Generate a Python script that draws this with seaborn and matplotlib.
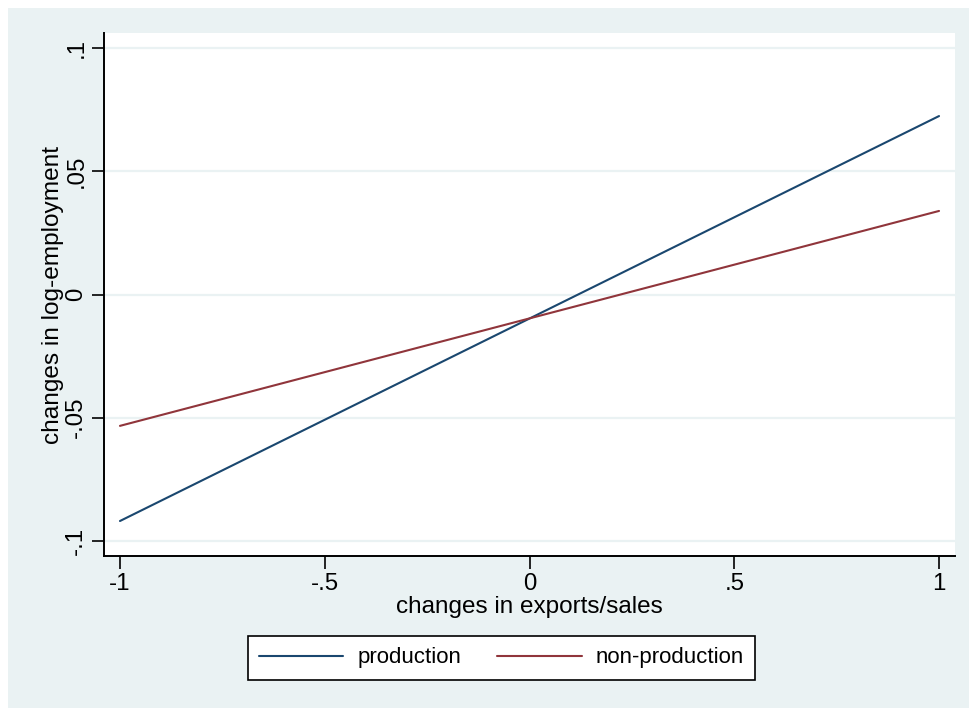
import pandas as pd
import numpy as np
import matplotlib
matplotlib.use("Agg")
import matplotlib.pyplot as plt
from matplotlib.patches import Rectangle
import seaborn as sns

sns.set_style("white")
plt.rcParams['font.family'] = ['Liberation Sans', 'DejaVu Sans']
plt.rcParams['text.color'] = 'black'
plt.rcParams['axes.labelcolor'] = 'black'
plt.rcParams['xtick.color'] = 'black'
plt.rcParams['ytick.color'] = 'black'

# ── 데이터 ───────────────────────────────────────────
export_change = [-1.0, 1.0]
production = [-0.0919, 0.0724]
non_production = [-0.0533, 0.0339]
SERIES = ["production", "non-production"]
COLORS = {"production": "#1A476F", "non-production": "#90353B"}
Y_TICKS = [-0.1, -0.05, 0, 0.05, 0.1]
Y_LABELS = ["-.1", "-.05", "0", ".05", ".1"]
X_TICKS = [-1, -0.5, 0, 0.5, 1]
X_LABELS = ["-1", "-.5", "0", ".5", "1"]

df = pd.DataFrame({
    "x": export_change * 2,
    "y": production + non_production,
    "group": ["production"] * 2 + ["non-production"] * 2,
})

W, H = 969, 708
fig = plt.figure(figsize=(W / 100, H / 100), dpi=100, facecolor="white")
# Stata 배경 (왼쪽/위 흰 여백)
fig.patches.append(Rectangle((8 / W, 0), 1 - 8 / W, 1 - 8 / H,
                             transform=fig.transFigure, facecolor="#EAF2F3",
                             edgecolor="none", zorder=-10))

ax = fig.add_axes([104 / W, (H - 556) / H, (955 - 104) / W, (556 - 33) / H])
ax.set_facecolor("white")

for y in Y_TICKS:
    ax.axhline(y, color="#EAF2F3", linewidth=1.6, zorder=0)

sns.lineplot(data=df, x="x", y="y", hue="group", hue_order=SERIES,
             palette=COLORS, linewidth=1.5, ax=ax, legend=False)

ax.set_xlim(-1.039, 1.039)
ax.set_ylim(-0.1061, 0.1061)
ax.set_xticks(X_TICKS)
ax.set_xticklabels(X_LABELS, fontsize=17.3)
ax.set_yticks(Y_TICKS)
ax.set_yticklabels(Y_LABELS, fontsize=17.3, rotation=90, va="center")
ax.tick_params(axis="both", direction="out", length=9, width=1.2,
               color="black", bottom=True, left=True)
ax.tick_params(axis="x", pad=3)
ax.tick_params(axis="y", pad=3)

for side in ["top", "right"]:
    ax.spines[side].set_visible(False)
for side in ["left", "bottom"]:
    ax.spines[side].set_color("black")
    ax.spines[side].set_linewidth(1.4)

ax.set_xlabel("changes in exports/sales", fontsize=17.5, labelpad=1)
ax.set_ylabel("changes in log-employment", fontsize=17.6, labelpad=1)

handles = [plt.Line2D([], [], color=COLORS[s], linewidth=1.5) for s in SERIES]
leg = fig.legend(handles, SERIES, loc="center",
                 bbox_to_anchor=(501.5 / W, 1 - 658 / H), ncol=2,
                 fontsize=16, frameon=True, fancybox=False,
                 handlelength=3.8, handletextpad=0.65, columnspacing=1.6,
                 borderpad=0.5)
leg.get_frame().set_edgecolor("black")
leg.get_frame().set_linewidth(1.2)
leg.get_frame().set_facecolor("white")
leg.get_frame().set_alpha(1)

fig.savefig("out.png", dpi=100, facecolor="white")
